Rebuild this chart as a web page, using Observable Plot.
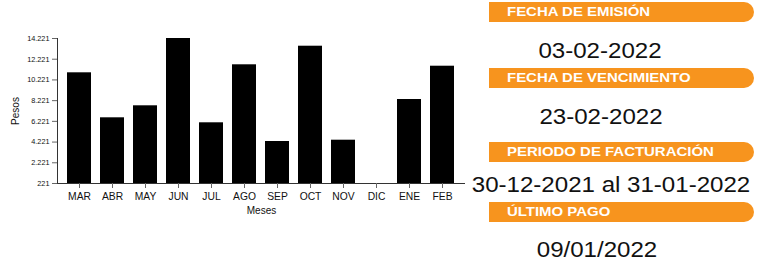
<!DOCTYPE html>
<html><head><meta charset="utf-8">
<script src="https://cdn.jsdelivr.net/npm/d3@7"></script>
<script src="https://cdn.jsdelivr.net/npm/@observablehq/plot@0.6"></script>
<style>
html,body{margin:0;padding:0;background:#fff;}
#wrap{position:relative;width:757px;height:261px;overflow:hidden;font-family:"Liberation Sans",Arial,sans-serif;}
#chart{position:absolute;left:0;top:0;}
#chart g[aria-label="y-axis label"] text,#chart g[aria-label="x-axis label"] text{font-size:10px;}
.banner{position:absolute;left:489px;width:265px;height:20px;background:#F7941E;border-radius:0 10px 10px 0;}
.banner span{position:absolute;left:18px;top:0;line-height:20px;font-size:13px;font-weight:bold;color:#fff;transform:scaleX(1.15);transform-origin:left center;white-space:nowrap;}
.date{position:absolute;width:0;height:20px;}
.date span{position:absolute;left:0;top:0;line-height:20px;font-size:21.5px;color:#111;white-space:nowrap;transform:translateX(-50%) scaleX(1.12);}
</style>
</head><body>
<div id="wrap"><div id="chart"></div></div>
<script>
const meses = ["MAR","ABR","MAY","JUN","JUL","AGO","SEP","OCT","NOV","DIC","ENE","FEB"];
const pesos = [10909, 6564, 7723, 14221, 6082, 11682, 4276, 13477, 4402, 0, 8331, 11546];
const yTicks = [221, 2221, 4221, 6221, 8221, 10221, 12221, 14221];
const yDomain = [221, 14221];
const bannerLabels = ["FECHA DE EMISIÓN", "FECHA DE VENCIMIENTO", "PERIODO DE FACTURACIÓN", "ÚLTIMO PAGO"];
const bannerValues = ["03-02-2022", "23-02-2022", "30-12-2021 al 31-01-2022", "09/01/2022"];

// layout of the info panel (CSS positions)
const bannerTops = [2, 68, 141.5, 202];
const dateTops = [40.8, 106.8, 175.2, 240];
const dateCenters = [600, 601, 611, 597];

const fmt = d3.formatLocale({decimal: ",", thousands: ".", grouping: [3], currency: ["$", ""]}).format(",d");
const data = meses.map((m, i) => ({mes: m, valor: pesos[i]}));

const chart = Plot.plot({
  width: 470, height: 261,
  marginLeft: 57, marginRight: 5, marginTop: 38, marginBottom: 78,
  style: {fontFamily: "'Liberation Sans', Arial, sans-serif", color: "#111", background: "transparent", overflow: "visible"},
  x: {domain: meses, paddingInner: 0.265, paddingOuter: 0.31},
  y: {domain: yDomain, clamp: true},
  marks: [
    Plot.barY(data, {x: "mes", y: "valor", fill: "#000"}),
    Plot.ruleY([0], {stroke: "#333"}),
    Plot.frame({anchor: "left", stroke: "#333"}),
    Plot.axisY({ticks: yTicks, tickFormat: fmt, tickSize: 5, tickPadding: 3, fontSize: 7.3, stroke: "#666",
      label: "Pesos", labelAnchor: "center", labelArrow: "none", labelOffset: 46}),
    Plot.axisX({tickSize: 5, tickPadding: 4, fontSize: 10.3, stroke: "#666",
      label: "Meses", labelAnchor: "center", labelArrow: "none", labelOffset: 30})
  ]
});
document.getElementById("chart").appendChild(chart);

const wrap = document.getElementById("wrap");
bannerLabels.forEach((t, i) => {
  const b = document.createElement("div");
  b.className = "banner";
  b.style.top = bannerTops[i] + "px";
  const s = document.createElement("span");
  s.textContent = t;
  b.appendChild(s);
  wrap.appendChild(b);
});
bannerValues.forEach((t, i) => {
  const d = document.createElement("div");
  d.className = "date";
  d.style.top = dateTops[i] + "px";
  d.style.left = dateCenters[i] + "px";
  const s = document.createElement("span");
  s.textContent = t;
  d.appendChild(s);
  wrap.appendChild(d);
});
</script>
</body></html>
